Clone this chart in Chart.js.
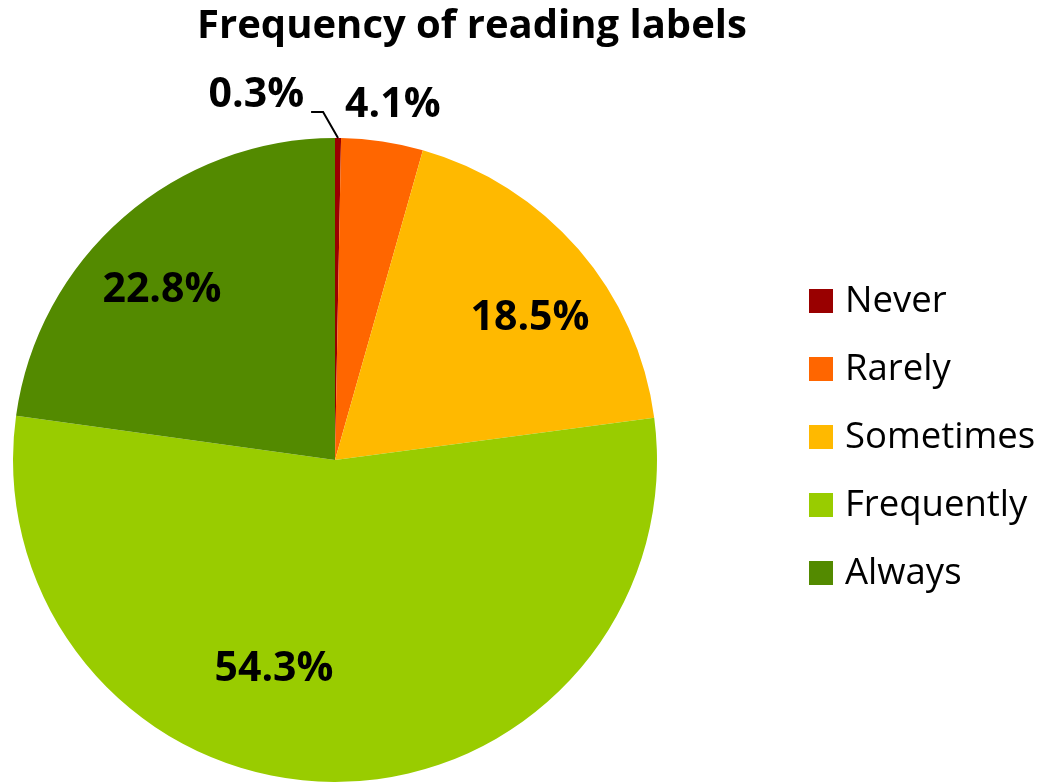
<!DOCTYPE html>
<html>
<head>
<meta charset="utf-8">
<script src="https://cdn.jsdelivr.net/npm/chart.js@4"></script>
<style>
  html, body { margin: 0; padding: 0; background: #fff; }
  #wrap { width: 1042px; height: 782px; }
</style>
</head>
<body>
<div id="wrap"><canvas id="pie" width="1042" height="782"></canvas></div>
<script>
const categories = ["Never", "Rarely", "Sometimes", "Frequently", "Always"];
const shares = [0.3, 4.1, 18.5, 54.3, 22.8];
const sliceColors = ["#990000", "#ff6600", "#ffb900", "#99cc00", "#538a00"];
const chartTitle = "Frequency of reading labels";

// label placement: [angle shift in degrees, distance as part of the radius]
const labelPlace = [[-12.7, 1.16], [0.8, 1.117], [4.8, 0.749], [16.1, 0.676], [-4.5, 0.753]];

const FONT = "'Open Sans', 'DejaVu Sans', sans-serif";

const sliceLabels = {
    id: "sliceLabels",
    afterDatasetsDraw(chart) {
        const ctx = chart.ctx;
        const arcs = chart.getDatasetMeta(0).data;
        ctx.save();
        ctx.font = "bold 41px " + FONT;
        ctx.fillStyle = "#000";
        ctx.textBaseline = "middle";
        ctx.textAlign = "center";
        arcs.forEach((arc, i) => {
            const p = arc.getProps(["x", "y", "startAngle", "endAngle", "outerRadius"], true);
            const mid = (p.startAngle + p.endAngle) / 2;
            const a = mid + labelPlace[i][0] * Math.PI / 180;
            const r = p.outerRadius * labelPlace[i][1];
            const lx = p.x + Math.cos(a) * r;
            const ly = p.y + Math.sin(a) * r;
            const text = shares[i].toFixed(1) + "%";
            ctx.fillText(text, lx, ly);
            if (i === 0) {
                // leader line for the thin slice
                const ex = p.x + Math.cos(mid) * p.outerRadius;
                const ey = p.y + Math.sin(mid) * p.outerRadius;
                const ka = mid - 2.5 * Math.PI / 180;
                const kx = p.x + Math.cos(ka) * p.outerRadius * 1.081;
                const ky = p.y + Math.sin(ka) * p.outerRadius * 1.081;
                ctx.beginPath();
                ctx.moveTo(ex, ey);
                ctx.lineTo(kx, ky);
                ctx.lineTo(kx - 12, ky);
                ctx.strokeStyle = "#000";
                ctx.lineWidth = 2;
                ctx.stroke();
            }
        });
        ctx.restore();
    }
};

const sideLegend = {
    id: "sideLegend",
    afterDraw(chart) {
        const ctx = chart.ctx;
        const bg = chart.data.datasets[0].backgroundColor;
        ctx.save();
        // title, centred over the whole figure
        ctx.font = "bold 40px " + FONT;
        ctx.fillStyle = "#000";
        ctx.textAlign = "center";
        ctx.textBaseline = "middle";
        ctx.fillText(chartTitle, 472, 27);

        ctx.font = "36.5px " + FONT;
        ctx.textAlign = "left";
        chart.data.labels.forEach((lab, i) => {
            const cy = 301 + i * 68;
            ctx.fillStyle = bg[i];
            ctx.fillRect(809, cy - 12, 24, 24);
            ctx.fillStyle = "#000";
            ctx.fillText(lab, 845, cy + 1);
        });
        ctx.restore();
    }
};

const chart = new Chart(document.getElementById("pie"), {
    type: "pie",
    data: {
        labels: categories,
        datasets: [{
            data: shares,
            backgroundColor: sliceColors,
            borderWidth: 0
        }]
    },
    options: {
        responsive: false,
        animation: false,
        layout: { padding: { left: 13, right: 385, top: 138, bottom: 0 } },
        plugins: {
            legend: { display: false },
            tooltip: { enabled: false },
            title: { display: false }
        }
    },
    plugins: [sliceLabels, sideLegend]
});
</script>
</body>
</html>
